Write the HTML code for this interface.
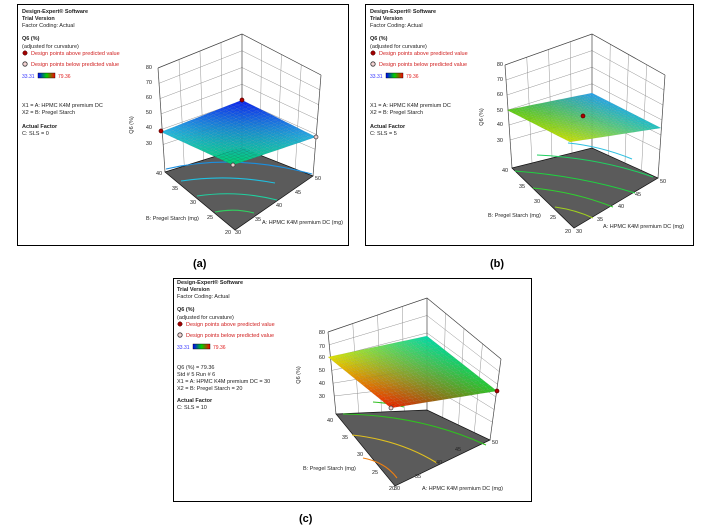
<!DOCTYPE html>
<html><head><meta charset="utf-8">
<style>
body{margin:0;background:#fff;width:706px;height:531px;overflow:hidden;position:relative;font-family:"Liberation Sans",sans-serif}
.box{position:absolute;border:1px solid #000;box-sizing:border-box}
.cap{position:absolute;font-weight:bold;font-size:11px}
svg{position:absolute;left:0;top:0}
</style></head><body>
<div class="box" style="left:17px;top:4px;width:332px;height:242px"></div>
<div class="box" style="left:365px;top:4px;width:329px;height:242px"></div>
<div class="box" style="left:173px;top:278px;width:359px;height:224px"></div>
<div class="cap" style="left:193px;top:258px">(a)</div>
<div class="cap" style="left:490px;top:258px">(b)</div>
<div class="cap" style="left:299px;top:513px">(c)</div>
<svg id="s" width="706" height="531" viewBox="0 0 706 531"></svg>
<script>
var NS="http://www.w3.org/2000/svg",S=document.getElementById('s');
function el(t,a,txt){var e=document.createElementNS(NS,t);for(var k in a)e.setAttribute(k,a[k]);if(txt!=null)e.textContent=txt;S.appendChild(e);return e;}
function L(p,q,t){return [p[0]+(q[0]-p[0])*t,p[1]+(q[1]-p[1])*t];}
function txt(x,y,s,anchor,extra){var a={x:x,y:y,'font-size':5.5,fill:'#222','font-family':'Liberation Sans, sans-serif'};if(anchor)a['text-anchor']=anchor;if(extra)for(var k in extra)a[k]=extra[k];return el('text',a,s);}
function legend(x,y,lines){
 var o=[[0,'Design-Expert® Software','b'],[7,'Trial Version','b'],[14,'Factor Coding: Actual',''],[27,'Q6 (%)','b'],[35,'(adjusted for curvature)','']];
 o.forEach(function(r){txt(x,y+r[0]+4,r[1],null,r[2]?{'font-weight':'bold'}:{});});
 el('circle',{cx:x+3,cy:y+44,r:2.2,fill:'#a00000',stroke:'#400',"stroke-width":0.5});
 txt(x+9,y+46,'Design points above predicted value',null,{fill:'#d02020'});
 el('circle',{cx:x+3,cy:y+55,r:2.2,fill:'#f4d4d4',stroke:'#333',"stroke-width":0.8});
 txt(x+9,y+57,'Design points below predicted value',null,{fill:'#d02020'});
 txt(x,y+69,'33.31',null,{fill:'#3333ff','font-size':5});
 el('rect',{x:x+16,y:y+64,width:17,height:5,fill:'url(#cb)',stroke:'#000','stroke-width':0.4});
 txt(x+36,y+69,'79.36',null,{fill:'#e02020','font-size':5});
 lines.forEach(function(r){txt(x,y+r[0]+4,r[1],null,r[2]?{'font-weight':'bold'}:{});});
}
var defs=el('defs',{});
defs.innerHTML='<linearGradient id="cb"><stop offset="0" stop-color="#0000ff"/><stop offset="0.5" stop-color="#00d000"/><stop offset="1" stop-color="#ff0000"/></linearGradient>';
function mix(a,b,t){return [a[0]+(b[0]-a[0])*t,a[1]+(b[1]-a[1])*t,a[2]+(b[2]-a[2])*t];}
function panel(c){
 var zf=c.zf;
 function vpt(bot,top,z){return L(bot,top,(z-zf)/(80-zf));}
 var g={stroke:'#888','stroke-width':0.45,fill:'none'};
 [[c.Lb,c.Lt,c.Kb,c.Kt],[c.Kb,c.Kt,c.Rb,c.Rt]].forEach(function(w){
  for(var i=1;i<4;i++){var b=L(w[0],w[2],i/4),t=L(w[1],w[3],i/4);el('line',Object.assign({x1:b[0],y1:b[1],x2:t[0],y2:t[1]},g));}
  for(var z=30;z<=80;z+=10){var p=vpt(w[0],w[1],z),q=vpt(w[2],w[3],z);el('line',Object.assign({x1:p[0],y1:p[1],x2:q[0],y2:q[1]},g));}
 });
 [[c.Lb,c.Lt],[c.Kb,c.Kt],[c.Rb,c.Rt]].forEach(function(v){el('line',{x1:v[0][0],y1:v[0][1],x2:v[1][0],y2:v[1][1],stroke:'#444','stroke-width':0.7});});
 el('polyline',{points:[c.Lt,c.Kt,c.Rt].join(' '),fill:'none',stroke:'#444','stroke-width':0.7});
 el('polygon',{points:[c.Lb,c.Kb,c.Rb,c.Fb].join(' '),fill:'#5b5b5b',stroke:'#111','stroke-width':0.7});
 c.cont.forEach(function(p){el('path',{d:p[0],stroke:p[1],'stroke-width':1.1,fill:'none'});});
 var s=c.sf,N=20;
 function sp(u,v){return L(L(s.L,s.K,u),L(s.F,s.R,u),v);}
 function sc(u,v){return mix(mix(s.cL,s.cK,u),mix(s.cF,s.cR,u),v);}
 for(var i=0;i<N;i++)for(var j=0;j<N;j++){
  var a=sp(i/N,j/N),b=sp((i+1)/N,j/N),d=sp((i+1)/N,(j+1)/N),e=sp(i/N,(j+1)/N);
  var col=sc((i+.5)/N,(j+.5)/N);
  el('polygon',{points:[a,b,d,e].join(' '),fill:'rgb('+col.map(Math.round).join(',')+')',stroke:'rgba(0,0,0,0.1)','stroke-width':0.3});
 }
 c.pts.forEach(function(p){el('circle',{cx:p[0],cy:p[1],r:2,fill:p[2]?'#b00000':'#f0d0d0',stroke:p[2]?'#500':'#333','stroke-width':0.7});});
 [80,70,60,50,40,30].forEach(function(z,i){txt(c.zx,c.zy[i]+2,String(z),'end');});
 var q=txt(0,0,'Q6 (%)','middle');q.setAttribute('transform','translate('+c.q[0]+','+c.q[1]+') rotate(-90)');
 [40,35,30,25,20].forEach(function(v,i){txt(c.bl[i][0],c.bl[i][1]+2,String(v),'middle');});
 [30,35,40,45,50].forEach(function(v,i){txt(c.al[i][0],c.al[i][1]+2,String(v),'middle');});
 txt(c.bt[0],c.bt[1],'B: Pregel Starch (mg)');
 txt(c.at[0],c.at[1],'A: HPMC K4M premium DC (mg)');
}
legend(22,9,[[94,'X1 = A: HPMC K4M premium DC'],[101,'X2 = B: Pregel Starch'],[115,'Actual Factor',1],[122,'C: SLS = 0']]);
legend(370,9,[[94,'X1 = A: HPMC K4M premium DC'],[101,'X2 = B: Pregel Starch'],[115,'Actual Factor',1],[122,'C: SLS = 5']]);
legend(177,280,[[85,'Q6 (%) = 79.36'],[92,'Std # 5 Run # 6'],[99,'X1 = A: HPMC K4M premium DC = 30'],[106,'X2 = B: Pregel Starch = 20'],[118,'Actual Factor',1],[125,'C: SLS = 10']]);
panel({zf:12,Lb:[165,172],Lt:[158,68],Kb:[242,148],Kt:[242,34],Rb:[313,176],Rt:[321,75],Fb:[235,230],
 cont:[['M166,169 Q235,153 312,174','#1a8fe0'],['M181,181 Q228,174 275,183','#20c0e0'],['M197,196 Q238,190 277,200','#20d0a0'],['M215,212 Q235,208 254,213','#30d060']],
 sf:{L:[161,132],K:[242,100],F:[233,165],R:[316,137],cL:[40,185,225],cK:[10,30,235],cF:[0,205,110],cR:[40,175,225]},
 pts:[[161,131,1],[242,100,1],[316,137,0],[233,165,0]],
 zx:152,zy:[67,82,97,112,127,143],q:[133,125],
 bl:[[159,173],[175,188],[193,202],[210,217],[228,232]],al:[[238,232],[258,219],[279,205],[298,192],[318,178]],
 bt:[146,220],at:[262,224]});
panel({zf:11.3,Lb:[512,168],Lt:[505,65],Kb:[592,148],Kt:[592,34],Rb:[658,178],Rt:[665,75],Fb:[574,228],
 cont:[['M568,143 Q600,146 632,159','#30c0e0'],['M537,155 Q600,158 653,177','#20d060'],['M515,171 Q580,176 635,193','#20d040'],['M533,188 Q575,192 613,207','#30d030'],['M555,207 Q576,210 593,218','#a0d020']],
 sf:{L:[507,110],K:[592,93],F:[570,142],R:[661,128],cL:[90,205,20],cK:[40,160,235],cF:[205,225,0],cR:[30,195,195]},
 pts:[[583,116,1]],
 zx:503,zy:[64,79,94,110,124,140],q:[483,117],
 bl:[[505,170],[522,186],[537,201],[553,217],[568,231]],al:[[579,231],[600,219],[621,206],[638,194],[663,181]],
 bt:[488,217],at:[603,228]});
panel({zf:15.9,Lb:[336,414],Lt:[328,332],Kb:[427,410],Kt:[427,298],Rb:[490,440],Rt:[501,359],Fb:[395,486],
 cont:[['M343,414 Q420,415 486,445','#30c020'],['M352,435 Q400,440 437,463','#e0c020'],['M363,458 Q385,462 397,478','#f08010'],['M373,402 Q390,403 404,407','#30c020']],
 sf:{L:[328,357],K:[427,336],F:[391,408],R:[497,391],cL:[225,225,0],cK:[0,215,170],cF:[235,30,0],cR:[40,200,40]},
 pts:[[391,408,0],[497,391,1]],
 zx:325,zy:[332,346,357,370,383,396],q:[300,375],
 bl:[[330,420],[345,437],[360,454],[375,472],[392,488]],al:[[397,488],[418,476],[439,462],[458,449],[495,442]],
 bt:[303,470],at:[422,490]});
</script>
</body></html>
